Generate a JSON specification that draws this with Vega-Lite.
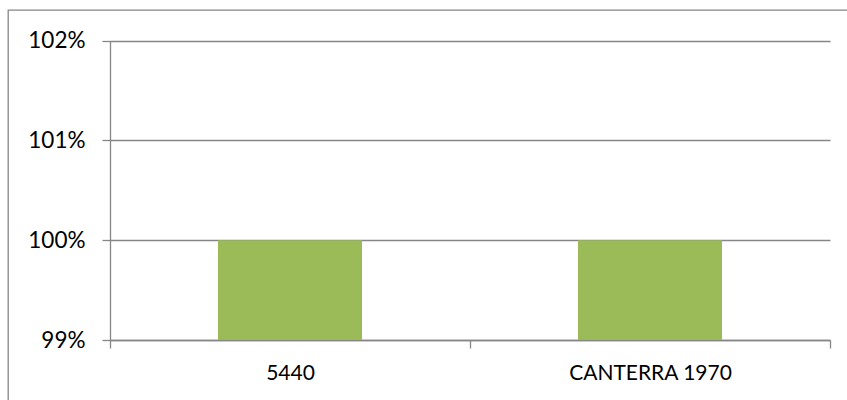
{
  "$schema": "https://vega.github.io/schema/vega-lite/v6.json",
  "autosize": {"type": "none"},
  "padding": {"left": 8, "top": 10, "right": 0, "bottom": 0},
  "width": 845,
  "height": 395,
  "background": "white",
  "config": {
    "view": {"stroke": "#868686", "strokeWidth": 1.3},
    "font": "Lato",
    "axis": {
      "domainColor": "#868686",
      "tickColor": "#868686",
      "gridColor": "#868686",
      "domainWidth": 1.3,
      "tickWidth": 1.3,
      "gridWidth": 1.3,
      "labelColor": "#000000",
      "labelFont": "Lato",
      "labelFontSize": 21,
      "tickSize": 8,
      "title": null
    }
  },
  "data": {
    "values": [
      {"category": "5440", "value": 1.0},
      {"category": "CANTERRA 1970", "value": 1.0}
    ]
  },
  "mark": {"type": "bar", "color": "#9BBB59", "width": {"band": 0.4}},
  "encoding": {
    "x": {
      "field": "category",
      "type": "nominal",
      "sort": null,
      "scale": {"paddingInner": 0, "paddingOuter": 0, "range": [102, 822]},
      "axis": {"labelAngle": 0, "tickBand": "extent", "labelPadding": 14, "grid": false, "offset": -65}
    },
    "y": {
      "field": "value",
      "type": "quantitative",
      "scale": {"domain": [0.99, 1.02], "zero": false, "nice": false, "range": [330, 30.5]},
      "axis": {"values": [0.99, 1.0, 1.01, 1.02], "format": ".0%", "labelPadding": 17, "labelFontSize": 22.5, "grid": true, "offset": -102}
    },
    "y2": {"datum": 0.99}
  }
}
